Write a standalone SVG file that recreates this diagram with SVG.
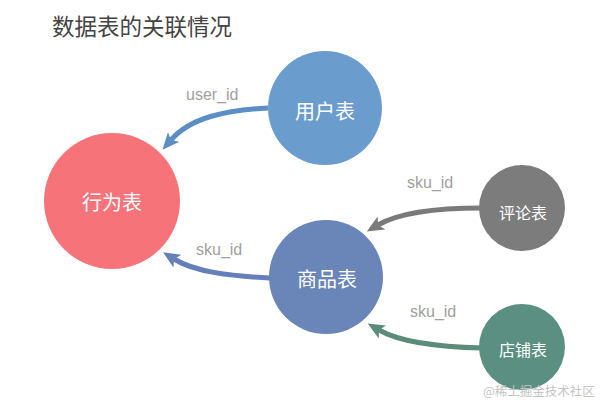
<svg xmlns="http://www.w3.org/2000/svg" width="600" height="403" viewBox="0 0 600 403">
<style>
.title{font-family:"Noto Sans CJK SC","Liberation Sans",sans-serif;font-size:22.5px;fill:#444444}
.node text{font-family:"Noto Sans CJK SC","Liberation Sans",sans-serif;fill:#ffffff;text-anchor:middle}
.big{font-size:20px}
.small{font-size:16px}
.lbl{font-family:"Liberation Sans",Arial,sans-serif;font-size:16px;fill:#a0a0a0}
.edge{fill:none;stroke-width:5}
.wm{font-family:"Noto Sans CJK SC",serif;font-size:12.5px;fill:#c4c4c4}
</style>
<defs>
<marker id="hBlue" viewBox="0 0 17 15" refX="4" refY="7.5" markerWidth="17" markerHeight="15" markerUnits="userSpaceOnUse" orient="auto"><path d="M0,0 L17,7.5 L0,15 L4,7.5 z" fill="#5b8ec5"/></marker>
<marker id="hNavy" viewBox="0 0 17 15" refX="4" refY="7.5" markerWidth="17" markerHeight="15" markerUnits="userSpaceOnUse" orient="auto"><path d="M0,0 L17,7.5 L0,15 L4,7.5 z" fill="#6580b8"/></marker>
<marker id="hGray" viewBox="0 0 17 15" refX="4" refY="7.5" markerWidth="17" markerHeight="15" markerUnits="userSpaceOnUse" orient="auto"><path d="M0,0 L17,7.5 L0,15 L4,7.5 z" fill="#7a7a7a"/></marker>
<marker id="hGreen" viewBox="0 0 17 15" refX="4" refY="7.5" markerWidth="17" markerHeight="15" markerUnits="userSpaceOnUse" orient="auto"><path d="M0,0 L17,7.5 L0,15 L4,7.5 z" fill="#5b8c7a"/></marker>
</defs>
<rect width="600" height="403" fill="#ffffff"/>
<text class="title" x="52" y="35">数据表的关联情况</text>
<g id="connectors">
<path class="edge" d="M268,108 C225,110 190,118 171,140" stroke="#5b8ec5" marker-end="url(#hBlue)"/>
<path class="edge" d="M270,278 C230,276 195,272 174,259" stroke="#6580b8" marker-end="url(#hNavy)"/>
<path class="edge" d="M482,208 C440,208 400,212 378,225" stroke="#7a7a7a" marker-end="url(#hGray)"/>
<path class="edge" d="M482,348 C440,347 400,342 379,330" stroke="#5b8c7a" marker-end="url(#hGreen)"/>
<text class="lbl" x="186" y="100">user_id</text>
<text class="lbl" x="196" y="255">sku_id</text>
<text class="lbl" x="407" y="188">sku_id</text>
<text class="lbl" x="410" y="317">sku_id</text>
</g>
<g id="behavior" class="node"><circle cx="112" cy="201" r="68" fill="#f7737a"/><text class="big" x="112" y="210">行为表</text></g>
<g id="user" class="node"><circle cx="325" cy="108" r="57" fill="#6a9dcd"/><text class="big" x="325" y="119">用户表</text></g>
<g id="product" class="node"><circle cx="326" cy="277" r="57" fill="#6a85b8"/><text class="big" x="327" y="287">商品表</text></g>
<g id="comment" class="node"><circle cx="522" cy="208" r="43" fill="#7c7c7c"/><text class="small" x="523" y="219">评论表</text></g>
<g id="shop" class="node"><circle cx="522" cy="347" r="43" fill="#5b8f81"/><text class="small" x="523" y="356">店铺表</text></g>
<text class="wm" x="483" y="396">@稀土掘金技术社区</text>
</svg>
